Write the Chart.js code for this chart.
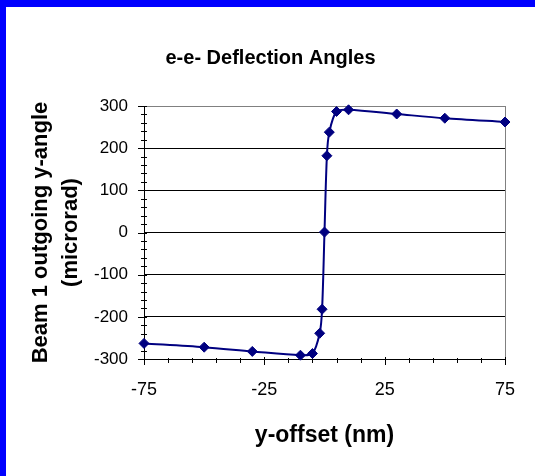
<!DOCTYPE html>
<html lang="en">
<head>
  <meta charset="UTF-8" />
  <title>e-e- Deflection Angles</title>
  <script src="https://cdn.jsdelivr.net/npm/chart.js"></script>
  <style>
    body { margin: 0; background: #fff; }
    .frame {
      width: 535px;
      height: 476px;
      box-sizing: border-box;
      border-top: 7px solid #0000ff;
      border-left: 6px solid #0000ff;
    }
    canvas { display: block; }
  </style>
</head>
<body>
  <div class="frame"><canvas id="deflectionChart" width="529" height="469"></canvas></div>

  <script>
    // y-offset (nm) vs. beam 1 outgoing y-angle (microrad)
    const yOffset = [-75, -50, -30, -10, -5, -2, -1, 0, 1, 2, 5, 10, 30, 50, 75];
    const yAngle = [-263, -272, -282, -291, -287, -239, -182, 1, 182, 238, 287, 291, 281, 271, 262];
    const xTicks = [-75, -25, 25, 75];
    const yTicks = [-300, -200, -100, 0, 100, 200, 300];
    const xMinorStep = 10;
    const yMinorStep = 20;

    const FONT = "'Liberation Sans', Arial, sans-serif";

    // Excel-style tick marks (major + minor, crossing the axis) and grey right edge
    const axisTicks = {
      id: 'axisTicks',
      beforeDatasetsDraw(chart) {
        const { ctx, chartArea: a, scales: { x, y } } = chart;
        ctx.save();
        ctx.lineWidth = 1;
        ctx.strokeStyle = '#808080';
        ctx.beginPath();
        ctx.moveTo(Math.round(a.right) + 0.5, a.top);
        ctx.lineTo(Math.round(a.right) + 0.5, a.bottom);
        ctx.stroke();

        ctx.strokeStyle = '#000';
        ctx.beginPath();
        for (let v = x.min; v <= x.max; v += xMinorStep) {
          const px = Math.round(x.getPixelForValue(v)) + 0.5;
          const major = xTicks.includes(v);
          ctx.moveTo(px, a.bottom - (major ? 2 : 1));
          ctx.lineTo(px, a.bottom + (major ? 6 : 4));
        }
        for (let v = y.min; v <= y.max; v += yMinorStep) {
          const py = Math.round(y.getPixelForValue(v)) + 0.5;
          const major = yTicks.includes(v);
          ctx.moveTo(a.left - (major ? 6 : 3), py);
          ctx.lineTo(a.left + 3, py);
        }
        ctx.stroke();
        ctx.restore();
      }
    };

    new Chart(document.getElementById('deflectionChart'), {
      type: 'line',
      data: {
        datasets: [{
          data: yOffset.map((v, i) => ({ x: v, y: yAngle[i] })),
          borderColor: '#000080',
          borderWidth: 2,
          backgroundColor: '#000080',
          pointStyle: 'rectRot',
          pointRadius: 5,
          pointBackgroundColor: '#000080',
          pointBorderColor: '#000080',
          pointBorderWidth: 1,
          tension: 0.3,
          fill: false,
          clip: false
        }]
      },
      options: {
        responsive: false,
        animation: false,
        layout: { padding: 0 },
        plugins: {
          legend: { display: false },
          tooltip: { enabled: false },
          title: {
            display: true,
            text: 'e-e- Deflection Angles',
            color: '#000',
            font: { family: FONT, size: 20, weight: 'bold' },
            padding: { top: 39, bottom: 36 }
          }
        },
        scales: {
          x: {
            type: 'linear',
            min: -75,
            max: 75,
            afterBuildTicks: (scale) => { scale.ticks = xTicks.map(v => ({ value: v })); },
            afterFit: (scale) => { scale.height = 117; },
            grid: { display: false, drawTicks: false },
            border: { display: true, color: '#000', width: 1 },
            ticks: {
              color: '#000',
              font: { family: FONT, size: 18 },
              padding: 20,
              maxRotation: 0,
              autoSkip: false
            },
            title: {
              display: true,
              text: 'y-offset (nm)',
              color: '#000',
              font: { family: FONT, size: 23, weight: 'bold' },
              padding: { top: 0, bottom: 27 }
            }
          },
          y: {
            type: 'linear',
            min: -300,
            max: 300,
            afterBuildTicks: (scale) => { scale.ticks = yTicks.map(v => ({ value: v })); },
            afterFit: (scale) => { scale.width = 138; },
            grid: {
              drawTicks: false,
              color: (c) => (c.tick && c.tick.value === 300 ? '#808080' : '#000'),
              lineWidth: 1
            },
            border: { display: true, color: '#000', width: 1 },
            ticks: {
              color: '#000',
              font: { family: FONT, size: 17 },
              padding: 16
            },
            title: {
              display: true,
              text: ['Beam 1 outgoing y-angle', '(microrad)'],
              color: '#000',
              font: { family: FONT, size: 22, weight: 'bold', lineHeight: 1.36 },
              padding: { top: 20, bottom: 0 }
            }
          },
          // empty strip on the right so the title centres on the whole canvas
          yRight: {
            type: 'linear',
            position: 'right',
            afterFit: (scale) => { scale.width = 27; },
            grid: { display: false, drawTicks: false },
            border: { display: false },
            ticks: { display: false }
          }
        }
      },
      plugins: [axisTicks]
    });
  </script>
</body>
</html>
